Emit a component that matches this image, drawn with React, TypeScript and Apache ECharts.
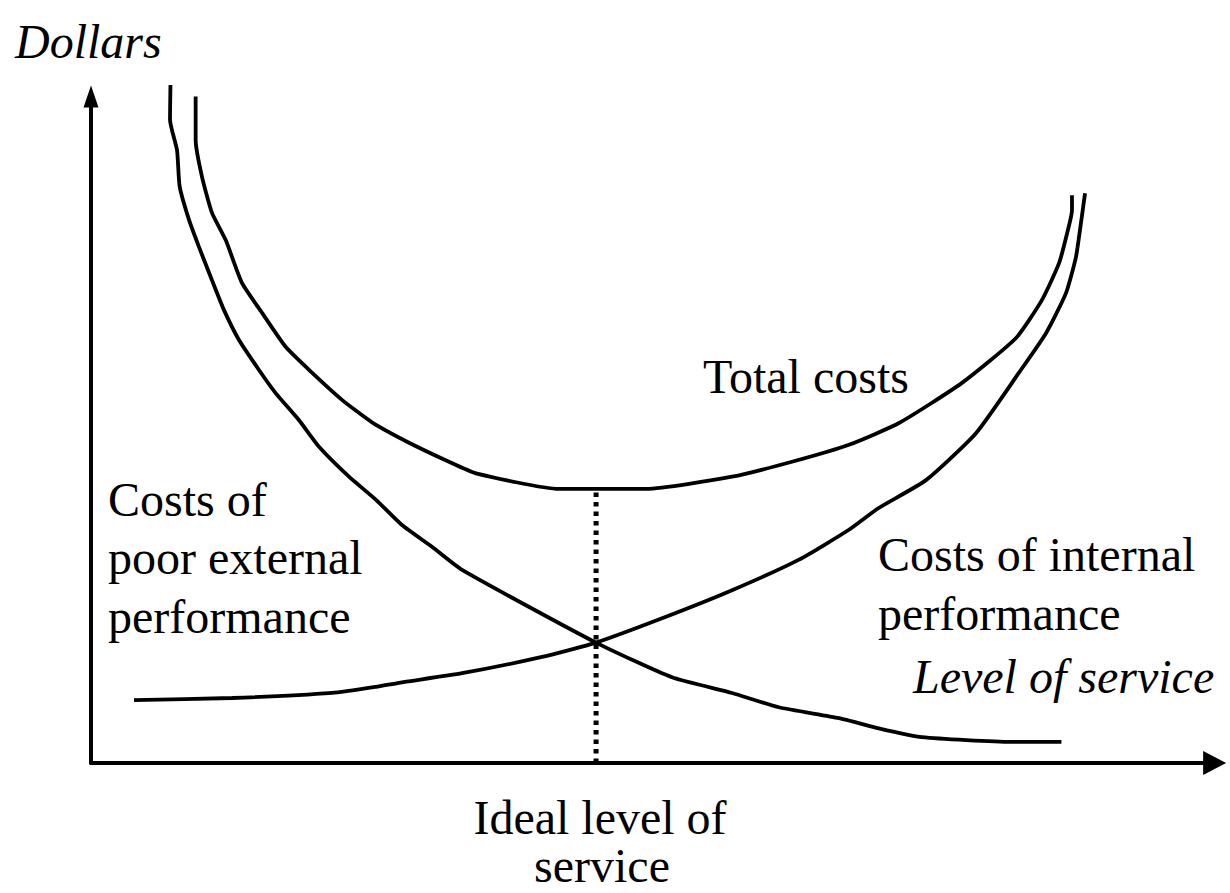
import React, { useEffect, useRef } from "react";
import * as echarts from "echarts";

// Level of service (x, 0-99) vs dollars (y, 0-98)
const externalCosts: [number, number][] = [
  [7.0, 99.7], [6.96, 94.6], [7.58, 90.1], [7.81, 84.8], [8.63, 79.9], [9.51, 75.9],
  [10.66, 71.0], [11.72, 66.6], [13.04, 62.2], [14.8, 57.8], [16.27, 54.4], [18.33, 50.4],
  [20.09, 46.5], [22.73, 42.1], [25.11, 38.7], [27.4, 35.0], [30.04, 31.8], [32.69, 28.4],
  [44.49, 17.7], [51.19, 12.6], [56.48, 10.3], [60.6, 8.2], [65.9, 6.6], [69.4, 5.1],
  [73.2, 3.8], [81.1, 3.1], [85.5, 3.1],
];

const totalCosts: [number, number][] = [
  [9.22, 98.0], [9.22, 91.6], [9.78, 86.2], [10.66, 80.9], [11.87, 76.9], [13.3, 70.6],
  [15.07, 66.2], [17.15, 61.2], [19.47, 57.4], [22.11, 53.4], [24.76, 50.1], [28.02, 47.1],
  [31.54, 44.3], [33.92, 42.6], [41.23, 40.3], [48.9, 40.3], [56.48, 42.1], [61.76, 44.3],
  [66.78, 46.8], [71.19, 50.0], [76.74, 55.9], [81.5, 62.5], [83.79, 68.1], [85.29, 73.5],
  [86.0, 77.9], [86.43, 81.3], [86.43, 83.5],
];

const internalCosts: [number, number][] = [
  [3.79, 9.26], [12.42, 9.56], [21.23, 10.3], [25.11, 11.2], [27.14, 11.8], [32.69, 13.2],
  [39.74, 15.6], [44.49, 17.7], [50.66, 21.5], [56.48, 25.4], [62.38, 29.9], [66.78, 34.3],
  [69.4, 37.5], [73.57, 41.6], [77.97, 48.5], [81.76, 57.4], [84.14, 63.2], [85.9, 69.1],
  [86.78, 74.4], [87.22, 79.4], [87.58, 83.8],
];

const idealLevel = 44.5;
const idealLine: [number, number][] = [
  [idealLevel, 0],
  [idealLevel, 40.3],
];

const labels = {
  yName: "Dollars",
  xName: "Level of service",
  total: "Total costs",
  external: ["Costs of", "poor external", "performance"],
  internal: ["Costs of internal", "performance"],
  ideal: ["Ideal level of", "service"],
};

const FONT = '"Liberation Serif", "Times New Roman", serif';

export default function App() {
  const ref = useRef<HTMLDivElement>(null);

  useEffect(() => {
    if (!ref.current) return;
    const chart = echarts.init(ref.current, null, { renderer: "svg" });

    const txt = (
      text: string,
      x: number,
      y: number,
      opts: { italic?: boolean; align?: string } = {}
    ) => ({
      type: "text",
      x,
      y,
      silent: true,
      style: {
        text,
        fill: "#000",
        font: `${opts.italic ? "italic " : ""}48px ${FONT}`,
        textAlign: opts.align || "left",
        textVerticalAlign: "middle",
      },
    });

    const lineStyle = { color: "#000", width: 3.8 };

    chart.setOption({
      animation: false,
      backgroundColor: "#fff",
      grid: { left: 91, top: 96.6, width: 1123.65, height: 666.4 },
      xAxis: {
        type: "value",
        min: 0,
        max: 99,
        axisLine: {
          show: true,
          lineStyle: { color: "#000", width: 4 },
          symbol: ["none", "triangle"],
          symbolSize: [24, 23],
        },
        axisTick: { show: false },
        axisLabel: { show: false },
        splitLine: { show: false },
      },
      yAxis: {
        type: "value",
        min: 0,
        max: 98,
        axisLine: {
          show: true,
          lineStyle: { color: "#000", width: 4 },
          symbol: ["none", "triangle"],
          symbolSize: [15, 22],
        },
        axisTick: { show: false },
        axisLabel: { show: false },
        splitLine: { show: false },
      },
      series: [
        {
          type: "line",
          name: "Costs of poor external performance",
          data: externalCosts,
          showSymbol: false,
          smooth: 0.18,
          clip: false,
          lineStyle,
        },
        {
          type: "line",
          name: "Total costs",
          data: totalCosts,
          showSymbol: false,
          smooth: 0.18,
          clip: false,
          lineStyle,
        },
        {
          type: "line",
          name: "Costs of internal performance",
          data: internalCosts,
          showSymbol: false,
          smooth: 0.18,
          clip: false,
          lineStyle,
        },
        {
          type: "line",
          name: "Ideal level of service",
          data: idealLine,
          showSymbol: false,
          clip: false,
          lineStyle: { color: "#000", width: 5, type: [4.5, 5] },
        },
      ],
      graphic: [
        txt(labels.yName, 15, 41, { italic: true }),
        txt(labels.total, 703, 376),
        txt(labels.external[0], 108, 499),
        txt(labels.external[1], 108, 557),
        txt(labels.external[2], 108, 616),
        txt(labels.internal[0], 878, 554),
        txt(labels.internal[1], 878, 613),
        txt(labels.xName, 913, 676, { italic: true }),
        txt(labels.ideal[0], 600, 817, { align: "center" }),
        txt(labels.ideal[1], 602, 865, { align: "center" }),
      ],
    });

    return () => chart.dispose();
  }, []);

  return (
    <div
      ref={ref}
      style={{ position: "absolute", left: 0, top: 0, width: 1230, height: 893 }}
    />
  );
}
